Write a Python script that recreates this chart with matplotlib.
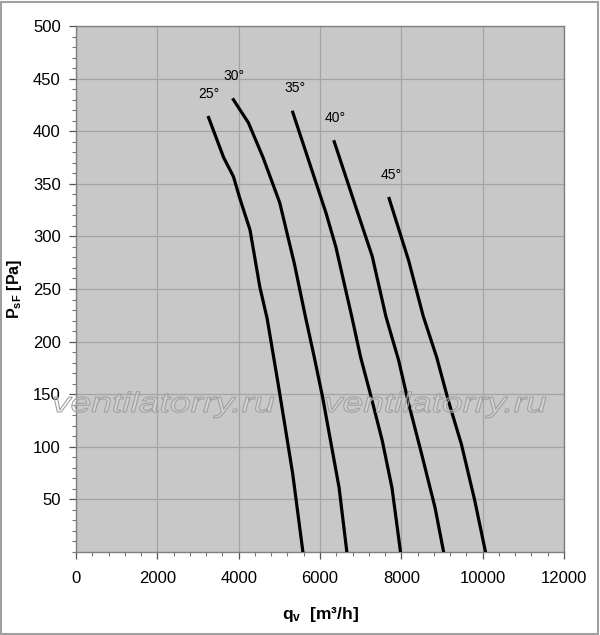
import matplotlib
matplotlib.use("Agg")
import matplotlib.pyplot as plt
from matplotlib.textpath import TextPath
from matplotlib.patches import PathPatch, Rectangle
from matplotlib.font_manager import FontProperties
from matplotlib.transforms import Affine2D, IdentityTransform
from matplotlib.ticker import MultipleLocator

plt.rcParams['font.family'] = ['Liberation Sans', 'DejaVu Sans']
plt.rcParams['mathtext.fontset'] = 'custom'
plt.rcParams['mathtext.rm'] = 'Liberation Sans'
plt.rcParams['mathtext.bf'] = 'Liberation Sans:bold'

# curve data: q [m3/h], p [Pa]
q25 = [3260, 3630, 3870, 4030, 4280, 4520, 4700, 4970, 5130, 5330, 5580]
p25 = [413, 375, 357, 336, 306, 252, 222, 160, 122, 74, 0]
q30 = [3870, 4240, 4600, 5010, 5370, 5640, 5860, 6065, 6230, 6470, 6660]
p30 = [430, 408, 375, 332, 274, 224, 185, 147, 112, 61, 0]
q35 = [5330, 5740, 6150, 6390, 6780, 7000, 7240, 7530, 7770, 7980]
p35 = [418, 370, 322, 290, 224, 185, 150, 106, 61, 0]
q40 = [6350, 6880, 7285, 7620, 7935, 8180, 8500, 8830, 9040]
p40 = [390, 328, 281, 224, 182, 141, 93, 42, 0]
q45 = [7700, 8180, 8540, 8870, 9155, 9480, 9805, 10070]
p45 = [336, 277, 224, 185, 144, 102, 49, 0]

labels = ['25°', '30°', '35°', '40°', '45°']
label_q = [3270, 3893, 5385, 6385, 7762]
label_p = [435, 452, 441, 413, 358]

xticks = [0, 2000, 4000, 6000, 8000, 10000, 12000]
yticks = [50, 100, 150, 200, 250, 300, 350, 400, 450, 500]

fig = plt.figure(figsize=(6, 6.35), dpi=100)
ax = fig.add_axes([76/600, 1-552/635, 488/600, 526/635])
ax.set_facecolor('#c8c8c8')

for q, p in [(q25, p25), (q30, p30), (q35, p35), (q40, p40), (q45, p45)]:
    ax.plot(q, p, color='black', lw=2.3, solid_joinstyle='round', zorder=3)

for s, x, y in zip(labels, label_q, label_p):
    ax.text(x, y, s, fontsize=10, ha='center', va='center', zorder=4)

ax.set_xlim(0, 12000)
ax.set_ylim(0, 500)
ax.set_xticks(xticks)
ax.set_yticks(yticks)
ax.xaxis.set_minor_locator(MultipleLocator(400))
ax.yaxis.set_minor_locator(MultipleLocator(10))
ax.grid(True, which='major', color='#a4a4a4', lw=0.9, zorder=1)
ax.set_axisbelow(True)
ax.tick_params(which='major', direction='out', length=5, width=0.9, color='#555555',
               labelsize=12, pad=6)
ax.tick_params(which='minor', direction='out', length=3, width=0.8, color='#777777')
ax.tick_params(axis='x', which='major', pad=9)
for sp in ax.spines.values():
    sp.set_color('#808080')
    sp.set_linewidth(1.0)

ax.set_xlabel(r'$\mathbf{q_v}$  [m³/h]', fontsize=12.5, fontweight='bold')
ax.set_ylabel(r'$\mathbf{P_{sF}}$ [Pa]', fontsize=11.5, fontweight='bold', va='center')
ax.xaxis.set_label_coords(0.5, -63/526)
ax.xaxis.label.set_va('center')
ax.yaxis.set_label_coords(-61/488, 0.5)

# watermark
fp = FontProperties(family='Liberation Sans', style='italic')
for x0 in [54, 326]:
    tp = TextPath((0, 0), 'ventilatorry.ru', size=28, prop=fp)
    ext = tp.get_extents()
    sx = 220 / ext.width
    tr = Affine2D().translate(-ext.x0, 0).scale(sx, 1).translate(x0, 635 - 412)
    patch = PathPatch(tr.transform_path(tp), facecolor=(1, 1, 1, 0.2),
                      edgecolor='#a0a0a0', lw=0.8, transform=IdentityTransform(),
                      zorder=5)
    fig.patches.append(patch)

fig.patches.append(Rectangle((0.002, 0.002), 0.994, 0.995, transform=fig.transFigure,
                             fill=False, edgecolor='#a0a0a0', lw=1.5))

fig.savefig('out.png', dpi=100)
